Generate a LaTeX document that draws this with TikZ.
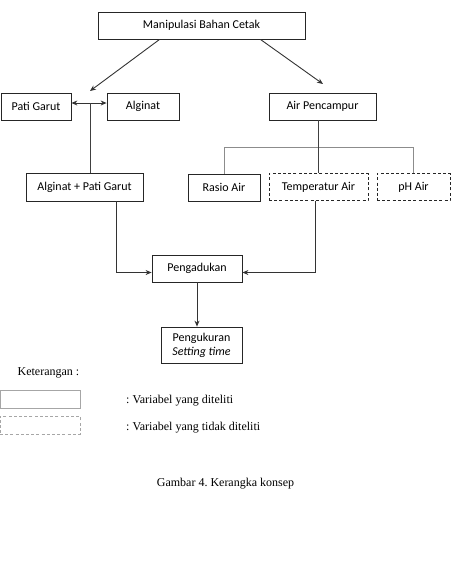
\documentclass[tikz,border=0pt]{standalone}
\usepackage{fontspec}
\setmainfont{Carlito}
\newfontfamily\timesf{Liberation Serif}
\usetikzlibrary{arrows.meta,calc}
\frenchspacing
\begin{document}
\begin{tikzpicture}[x=1pt,y=-1pt,
  box/.style={draw=black!85,line width=0.8pt,minimum height=27pt,inner sep=0pt,font=\fontsize{12}{14}\selectfont},
  dbox/.style={box,dashed,dash pattern=on 3pt off 2.2pt},
  arr/.style={draw=black!80,line width=0.9pt,-{Stealth[length=6pt,width=5pt]}},
  darr/.style={draw=black!80,line width=0.9pt,{Stealth[length=6pt,width=5pt]}-{Stealth[length=6pt,width=5pt]}},
  ln/.style={draw=black!75,line width=0.7pt},
  gln/.style={draw=black!45,line width=0.7pt},
  leg/.style={font=\timesf\fontsize{12}{14}\selectfont,inner sep=0pt}]
\useasboundingbox (0,0) rectangle (453,566);
\node[box,minimum width=207pt] (man) at (201.5,25.5) {Manipulasi Bahan Cetak};
\node[box,minimum width=70pt] (pg) at (36,106.5) {Pati Garut};
\node[box,minimum width=72pt] (alg) at (143,106.5) {Alginat};
\node[box,minimum width=107pt] (ap) at (322.5,106.5) {Air Pencampur};
\node[box,minimum width=117pt,minimum height=28pt] (apg) at (84.5,187) {Alginat + Pati Garut};
\node[box,minimum width=72pt] (ras) at (224,187.5) {Rasio Air};
\node[dbox,minimum width=99pt] (tem) at (318.5,187) {Temperatur Air};
\node[dbox,minimum width=73pt] (ph) at (413.5,187) {pH Air};
\node[box,minimum width=90pt] (pen) at (197,268.5) {Pengadukan};
\node[box,minimum width=81pt,minimum height=36pt,align=center] (pk) at (201.5,345) {Pengukuran\\[0pt]\itshape Setting time};
\coordinate (a1) at (90,91);
\coordinate (a2) at (323,84);
\draw[arr] ([xshift=62pt]man.south west) -- (a1);
\draw[arr] ([xshift=-45pt]man.south east) -- (a2);
\draw[darr] ([yshift=3.5pt]pg.east) -- ([yshift=3.5pt]alg.west);
\coordinate (j) at ($([yshift=3.5pt]pg.east)!0.55!([yshift=3.5pt]alg.west)$);
\draw[ln] (j) -- (j |- apg.north);
\coordinate (t) at (0,147);
\draw[gln] (ras.north) |- (t -| ph.north) -- (ph.north);
\draw[ln] (tem.north) -- (tem.north |- ap.south);
\draw[arr] ([xshift=31.5pt]apg.south) |- ([yshift=-4pt]pen.west);
\draw[arr] ([xshift=-3.5pt]tem.south) |- ([yshift=-4pt]pen.east);
\draw[arr] (pen.south) -- (pen.south |- pk.north);
\node[leg,anchor=east] (ket) at (79.5,373) {Keterangan :};
\node[draw=black!35,line width=0.8pt,minimum width=80pt,minimum height=18pt,inner sep=0pt] (l1) at (40,399) {};
\node[draw=black!35,line width=0.8pt,dashed,dash pattern=on 3pt off 2.2pt,minimum width=80pt,minimum height=18pt,inner sep=0pt] (l2) at (40,425) {};
\node[leg,anchor=west] (t1) at (126,401) {: Variabel yang diteliti};
\node[leg,anchor=west] (t2) at (126,428) {: Variabel yang tidak diteliti};
\node[leg] (cap) at (225.5,484) {Gambar 4. Kerangka konsep};
\end{tikzpicture}
\end{document}
